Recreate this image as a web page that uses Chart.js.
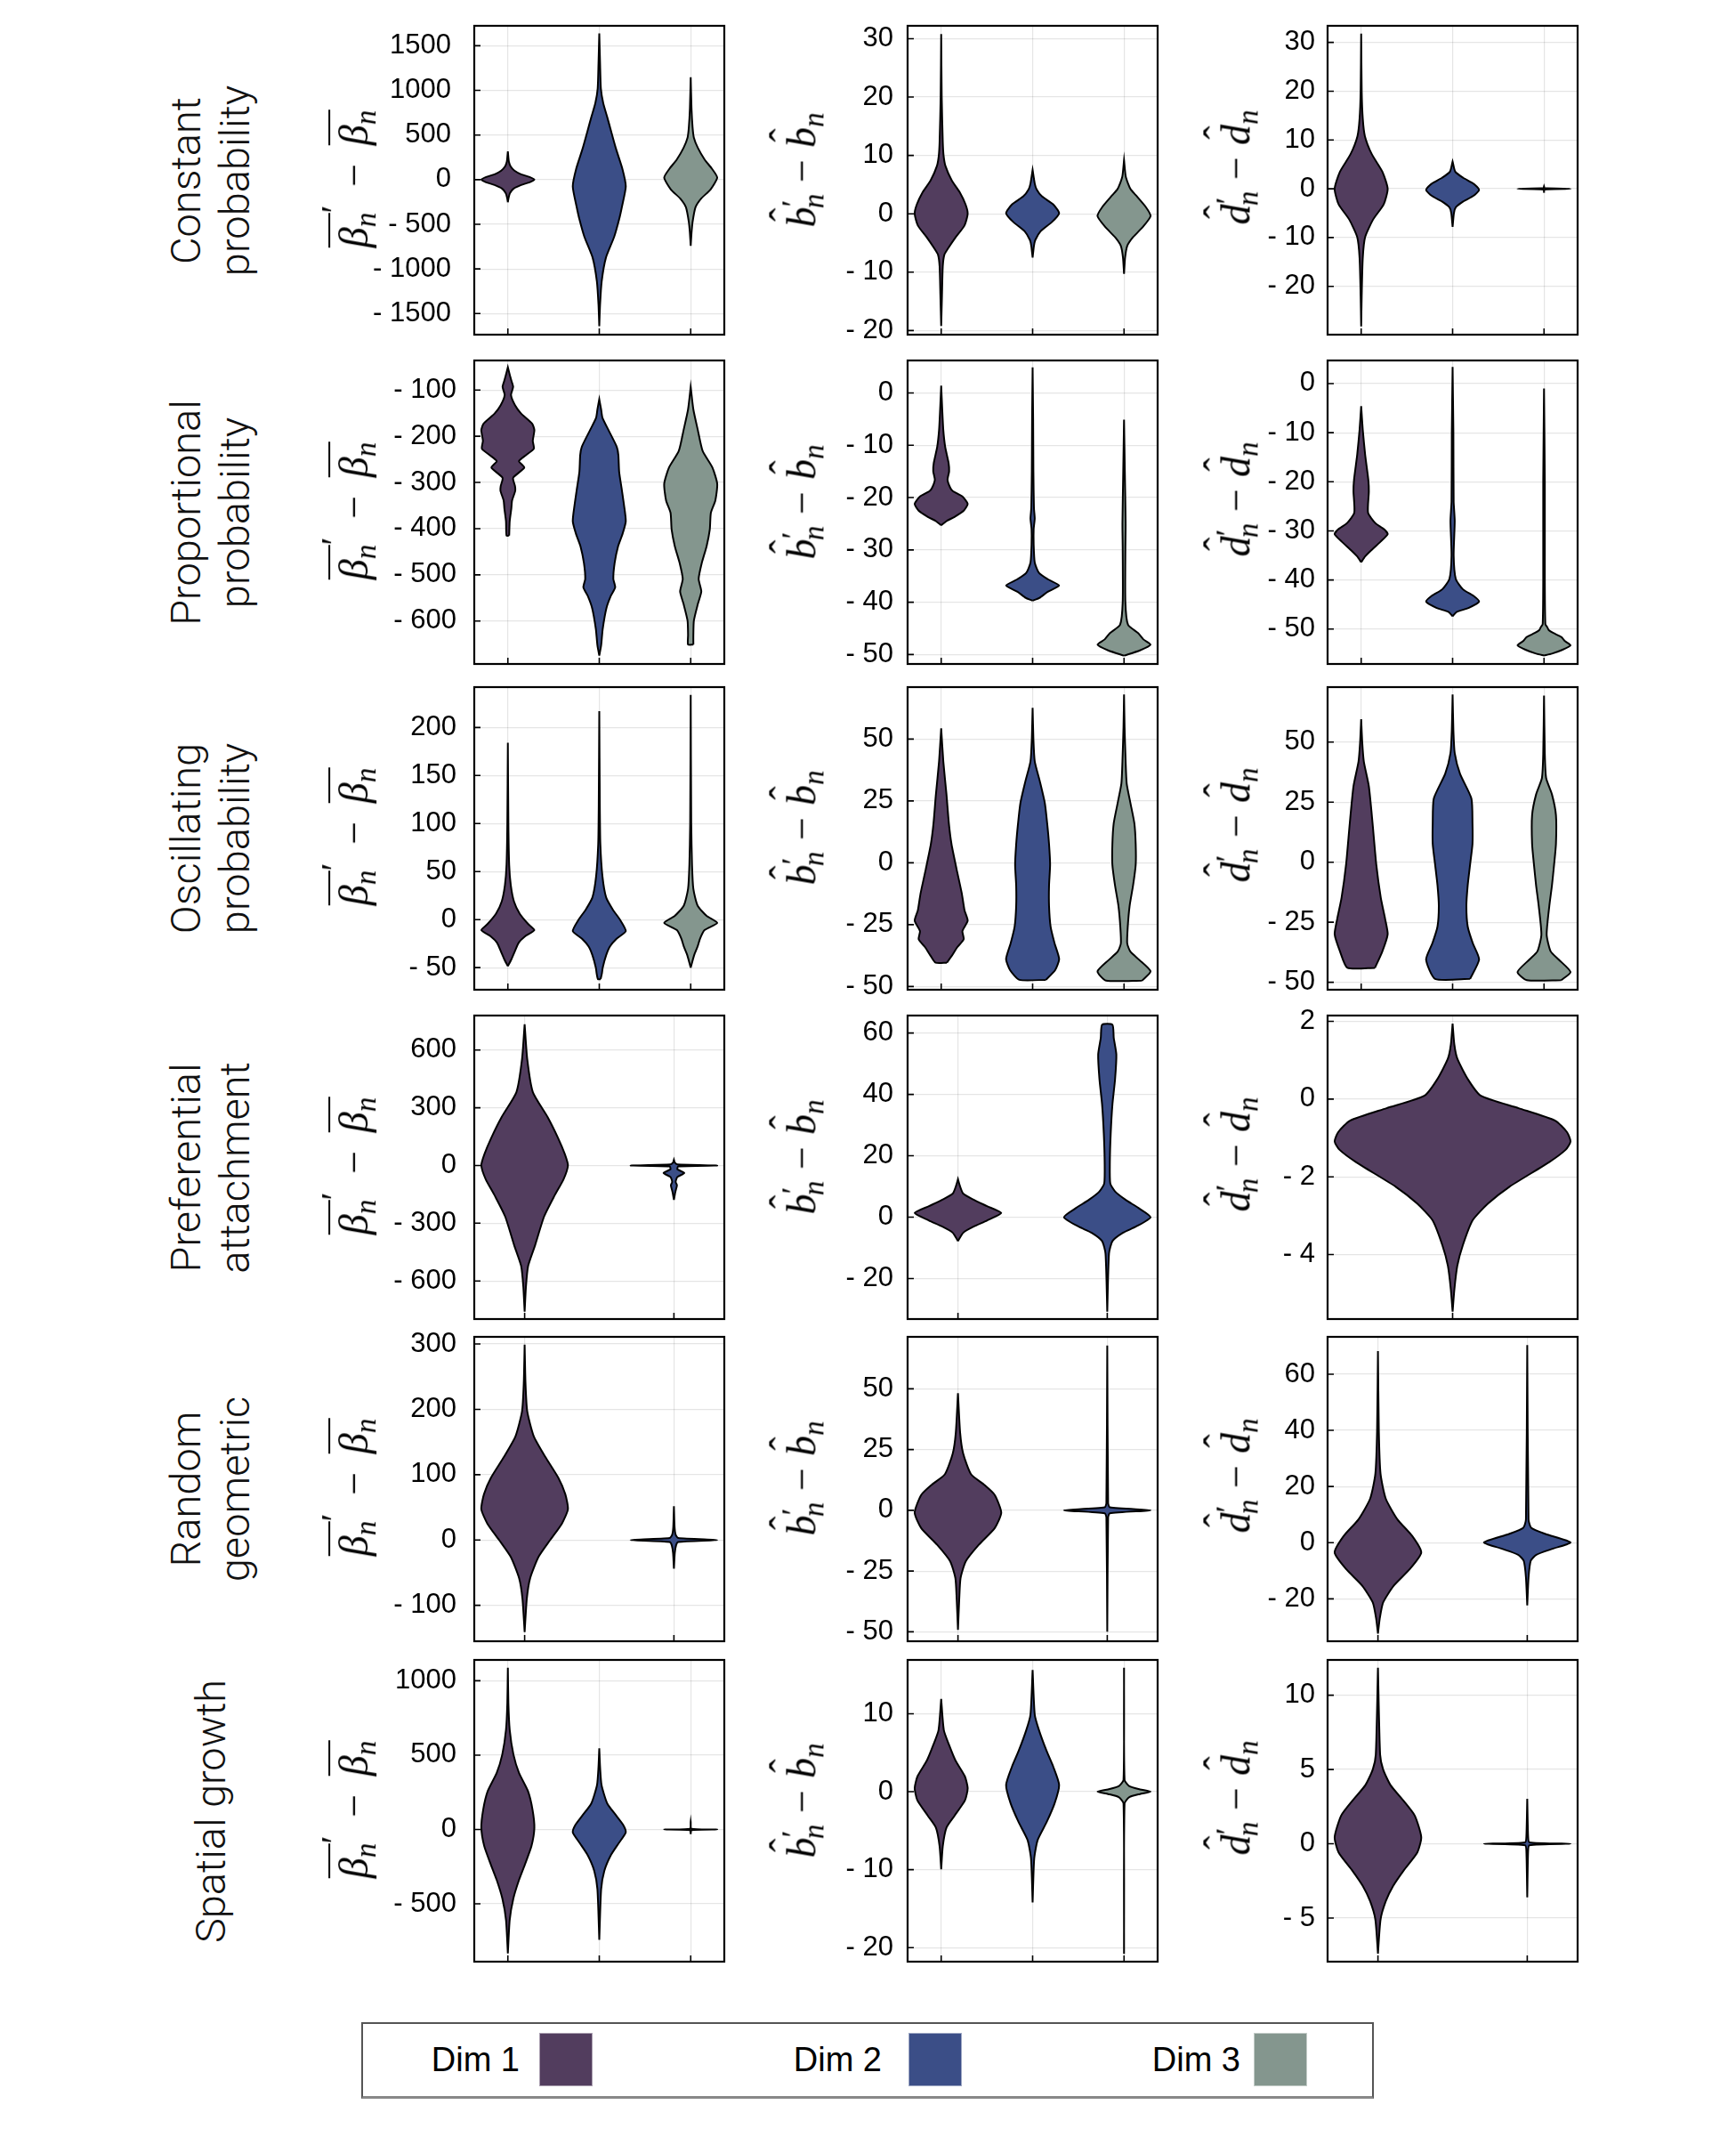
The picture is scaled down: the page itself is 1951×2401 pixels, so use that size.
<!DOCTYPE html>
<html><head><meta charset="utf-8">
<script src="https://cdn.jsdelivr.net/npm/chart.js@4.4.1/dist/chart.umd.min.js"></script>
<style>
html,body{margin:0;padding:0;background:#fff;}
body{width:1951px;height:2401px;position:relative;overflow:hidden;}
canvas{position:absolute;}
.rowlab{position:absolute;font-family:Roboto,'Liberation Sans',sans-serif;font-weight:300;font-size:47px;line-height:55px;text-align:center;white-space:nowrap;color:#111;transform:translate(-50%,-50%) rotate(-90deg);}
.ytitle{position:absolute;font-family:'Liberation Serif','DejaVu Serif',serif;font-style:italic;font-size:46px;line-height:60px;white-space:nowrap;color:#000;transform:translate(-50%,-50%) rotate(-90deg);}
.ob{display:inline-block;border-top:2px solid #000;line-height:1;padding-top:4px;}
.s{font-size:0.72em;vertical-align:-0.28em;}
.mn{font-style:normal;margin:0 0.28em;}
.mn1{font-style:normal;margin:0 0.45em;}
.pr{font-style:normal;vertical-align:0.55em;font-size:0.9em;margin-left:-0.02em;}
.pr2{font-style:normal;vertical-align:0.35em;font-size:0.8em;}
.sb{font-size:0.72em;vertical-align:-0.28em;margin-left:-0.3em;}
.hat{position:relative;display:inline-block;}
.hat::after{content:'\02C6';position:absolute;left:0.14em;top:-0.40em;font-style:normal;font-size:1em;}
#legend{position:absolute;left:406px;top:2272px;width:1138px;height:86px;box-sizing:border-box;border:2px solid #555;border-bottom:3px solid #888;background:#fff;}
.legtxt{position:absolute;font-family:'Liberation Sans',Arial,sans-serif;font-size:38px;color:#000;white-space:nowrap;transform:translate(-100%,-50%);}
.legsw{position:absolute;box-sizing:border-box;border:1px solid rgba(255,255,255,0.5);}
</style>
</head><body>
<script>
// ---------------- data ----------------
const categories = ['Dim 1', 'Dim 2', 'Dim 3'];
const colors = ['#523d5e', '#3b4e87', '#84968e'];
const rowLabels = [
  ['Constant', 'probability'],
  ['Proportional', 'probability'],
  ['Oscillating', 'probability'],
  ['Preferential', 'attachment'],
  ['Random', 'geometric'],
  ['Spatial growth']
];

// violin profiles: [y value, relative half-width (1 = widest)]
// Row 1: constant probability
const cp_beta_ticks = [-1500, -1000, -500, 0, 500, 1000, 1500];
const cp_beta_range = [-1736, 1723];
const cp_beta_dim1 = [[-253,0],[-200,0.03],[-150,0.08],[-100,0.22],[-60,0.5],[-30,0.82],[0,1],[30,0.82],[60,0.5],[100,0.25],[150,0.1],[200,0.04],[250,0.02],[316,0]];
const cp_beta_dim2 = [[-1641,0],[-1400,0.03],[-1141,0.09],[-875,0.25],[-642,0.56],[-443,0.75],[-310,0.85],[-77,1],[123,0.87],[356,0.62],[690,0.31],[855,0.15],[1022,0.06],[1300,0.03],[1638,0]];
const cp_beta_dim3 = [[-742,0],[-600,0.03],[-476,0.07],[-310,0.18],[-210,0.4],[-110,0.75],[23,1],[123,0.8],[223,0.53],[356,0.27],[470,0.12],[589,0.07],[800,0.03],[1148,0]];
const cp_b_ticks = [-20, -10, 0, 10, 20, 30];
const cp_b_range = [-20.7, 32.2];
const cp_b_dim1 = [[-19.2,0],[-14,0.03],[-9,0.06],[-7,0.12],[-6,0.25],[-4,0.55],[-2,0.88],[0,1],[1.6,0.92],[3.7,0.7],[5.7,0.4],[8.2,0.16],[10,0.09],[12.3,0.06],[20,0.02],[30.8,0]];
const cp_b_dim2 = [[-7.5,0],[-5.5,0.05],[-4.5,0.1],[-3,0.3],[-1.4,0.73],[0.1,1],[1.6,0.78],[3,0.35],[4.2,0.15],[5.2,0.08],[7.5,0]];
const cp_b_dim3 = [[-10.3,0],[-7.5,0.04],[-5.5,0.12],[-4,0.34],[-2.4,0.68],[-0.4,1],[1.1,0.83],[3.2,0.44],[4.2,0.25],[5.2,0.15],[6.5,0.06],[9.2,0]];
const cp_d_ticks = [-20, -10, 0, 10, 20, 30];
const cp_d_range = [-29.9, 33.4];
const cp_d_dim1 = [[-28.2,0],[-22,0.02],[-14.2,0.06],[-9.9,0.15],[-6.3,0.45],[-3.2,0.85],[0,1],[3.5,0.8],[7.1,0.4],[10.8,0.14],[14.4,0.06],[20,0.02],[31.8,0]];
const cp_d_dim2 = [[-7.8,0],[-5,0.05],[-3.8,0.12],[-2.6,0.4],[-1.4,0.8],[-0.2,1],[1,0.8],[2.25,0.4],[3.5,0.1],[5.6,0]];
const cp_d_dim3 = [[-0.8,0],[-0.15,0.02],[0,1],[0.15,0.02],[0.5,0]];

// Row 2: proportional probability
const pp_beta_ticks = [-600, -500, -400, -300, -200, -100];
const pp_beta_range = [-693, -36];
const pp_beta_dim1 = [[-415,0.05],[-384,0.07],[-357,0.13],[-339,0.16],[-318,0.28],[-308,0.27],[-290,0.2],[-268,0.62],[-254,0.42],[-241,0.68],[-227,0.98],[-210,0.94],[-187,1],[-173,0.92],[-151,0.5],[-133,0.27],[-111,0.12],[-93,0.2],[-79,0.13],[-62,0.05],[-50.7,0]];
const pp_beta_dim2 = [[-675,0],[-653,0.07],[-617,0.13],[-572,0.27],[-545,0.44],[-527,0.6],[-509,0.53],[-474,0.58],[-438,0.71],[-411,0.88],[-384,1],[-348,0.93],[-312,0.84],[-277,0.75],[-241,0.72],[-223,0.66],[-187,0.35],[-160,0.12],[-142,0.07],[-120,0]];
const pp_beta_dim3 = [[-651,0.1],[-630,0.1],[-599,0.12],[-563,0.27],[-536,0.4],[-509,0.3],[-474,0.42],[-438,0.6],[-402,0.72],[-366,0.76],[-339,0.93],[-303,1],[-268,0.82],[-232,0.45],[-187,0.27],[-142,0.1],[-93,0]];
const pp_b_ticks = [-50, -40, -30, -20, -10, 0];
const pp_b_range = [-51.8, 6.2];
const pp_b_dim1 = [[-25.3,0],[-24.5,0.2],[-23.7,0.5],[-22.5,0.85],[-21.2,1],[-19.8,0.8],[-18.8,0.45],[-18.2,0.35],[-16.6,0.24],[-15,0.3],[-13.4,0.28],[-10.3,0.15],[-7.1,0.08],[-3.2,0.04],[1.4,0]];
const pp_b_dim2 = [[-39.7,0],[-39.2,0.25],[-38,0.57],[-36.8,1],[-35.6,0.57],[-34.4,0.24],[-32.4,0.08],[-29,0.04],[-26,0.04],[-24,0.08],[-22,0.05],[-15,0.03],[-5,0.02],[4.9,0]];
const pp_b_dim3 = [[-50.2,0],[-49.2,0.6],[-48.1,1],[-47.1,0.73],[-45.9,0.53],[-44.3,0.15],[-40,0.05],[-30,0.05],[-25,0.06],[-15,0.03],[-5.1,0]];
const pp_d_ticks = [-50, -40, -30, -20, -10, 0];
const pp_d_range = [-57.1, 4.7];
const pp_d_dim1 = [[-36.4,0],[-35.2,0.15],[-33.9,0.39],[-32.2,0.73],[-30.7,1],[-29.7,0.87],[-28.4,0.53],[-26.3,0.26],[-22,0.29],[-19.6,0.27],[-14.5,0.15],[-9.4,0.06],[-4.6,0]];
const pp_d_dim2 = [[-47.4,0],[-46.5,0.15],[-45.7,0.6],[-44.4,1],[-43.2,0.78],[-41.9,0.39],[-39.8,0.12],[-35,0.04],[-28,0.08],[-24,0.04],[-10,0.03],[3.4,0]];
const pp_d_dim3 = [[-55.4,0],[-55,0.3],[-54.2,0.7],[-53.3,1],[-52.5,0.8],[-51.6,0.65],[-50.8,0.35],[-50.2,0.18],[-49.6,0.12],[-49,0.05],[-40,0.03],[-20,0.03],[-1,0]];

// Row 3: oscillating probability
const op_beta_ticks = [-50, 0, 50, 100, 150, 200];
const op_beta_range = [-73, 242];
const op_beta_dim1 = [[-48.5,0],[-41,0.14],[-32.6,0.27],[-24,0.41],[-17.6,0.64],[-11,1],[-4.7,0.77],[6,0.45],[19,0.23],[36,0.11],[57,0.05],[100,0.02],[184,0]];
const op_beta_dim2 = [[-62,0.05],[-56,0.1],[-50,0.13],[-37,0.26],[-28,0.4],[-20,0.65],[-12,1],[0,0.78],[10,0.52],[23,0.26],[45,0.12],[79,0.04],[120,0.02],[217,0]];
const op_beta_dim3 = [[-50,0],[-37,0.13],[-28,0.26],[-20,0.35],[-11,0.52],[-3.4,1],[3.9,0.6],[14.6,0.26],[32,0.1],[57,0.05],[100,0.02],[234,0]];
const op_b_ticks = [-50, -25, 0, 25, 50];
const op_b_range = [-51.3, 71];
const op_b_dim1 = [[-40.4,0.21],[-37.6,0.4],[-34.2,0.6],[-30.9,0.85],[-27.6,0.8],[-23.4,1],[-19.2,0.88],[-12.5,0.78],[-2.5,0.58],[7.5,0.39],[15.9,0.29],[27.6,0.2],[41,0.08],[54.3,0]];
const op_b_dim2 = [[-47.3,0.5],[-43.4,0.85],[-38.9,1],[-32.6,0.83],[-25.9,0.68],[-17.5,0.62],[-9.2,0.62],[-0.8,0.66],[7.5,0.62],[15.9,0.55],[24.2,0.46],[32.6,0.28],[41,0.08],[50,0.03],[62.6,0]];
const op_b_dim3 = [[-47.6,0.68],[-43.9,1],[-39.3,0.58],[-35.9,0.24],[-32.6,0.12],[-25.9,0.14],[-17.5,0.21],[-9.2,0.34],[-0.8,0.44],[7.5,0.44],[15.9,0.39],[24.2,0.24],[32,0.1],[41,0.06],[55,0.02],[68,0]];
const op_d_ticks = [-50, -25, 0, 25, 50];
const op_d_range = [-53.1, 72.9];
const op_d_dim1 = [[-44,0.52],[-37.1,0.8],[-30,1],[-23.4,0.9],[-14.8,0.74],[-1,0.57],[16.2,0.43],[31.6,0.29],[41.9,0.1],[50,0.04],[59.5,0]];
const op_d_dim2 = [[-48.6,0.66],[-40.5,1],[-33.7,0.76],[-26.8,0.57],[-18.2,0.52],[-9.6,0.57],[-1,0.66],[7.6,0.75],[16.2,0.75],[26.5,0.71],[36.8,0.28],[45.4,0.08],[55,0.03],[69.8,0]];
const op_d_dim3 = [[-49.1,0.65],[-45.7,1],[-40.5,0.55],[-37.1,0.25],[-30.2,0.1],[-18.2,0.2],[-9.6,0.3],[-1,0.38],[7.6,0.45],[19.6,0.45],[28.2,0.3],[35,0.08],[45,0.03],[69.4,0]];

// Row 4: preferential attachment
const pa_beta_ticks = [-600, -300, 0, 300, 600];
const pa_beta_range = [-798, 779];
const pa_beta_dim1 = [[-760,0],[-631,0.03],[-523,0.08],[-416,0.24],[-265,0.45],[-157,0.69],[-71,0.9],[0,1],[58,0.93],[144,0.77],[252,0.53],[381,0.19],[553,0.06],[734,0]];
const pa_beta_dim2 = [[-179,0],[-140,0.03],[-103,0.07],[-85,0.04],[-60,0.08],[-39,0.24],[-20,0.08],[-5,0.1],[0,1],[5,0.08],[15,0.02],[30,0]];
const pa_b_ticks = [-20, 0, 20, 40, 60];
const pa_b_range = [-33.2, 65.7];
const pa_b_dim1 = [[-7.8,0],[-5.1,0.12],[-3.1,0.36],[-1.1,0.67],[1.35,1],[3.6,0.67],[5.7,0.36],[7.7,0.12],[10.4,0.04],[12.4,0]];
const pa_b_dim2 = [[-30.8,0],[-11.9,0.04],[-7.8,0.12],[-5.1,0.36],[-3.1,0.66],[0,1],[3,0.72],[5.7,0.42],[8.4,0.18],[11,0.07],[17.8,0.06],[27.3,0.08],[36.8,0.12],[44.9,0.18],[53,0.21],[58.4,0.15],[62.7,0.12]];
const pa_d_ticks = [-4, -2, 0, 2];
const pa_d_range = [-5.66, 2.15];
const pa_d_dim1 = [[-5.47,0],[-4.9,0.015],[-4.29,0.04],[-3.76,0.087],[-3.12,0.17],[-2.69,0.3],[-2.26,0.48],[-1.62,0.82],[-1.3,0.96],[-1.09,1],[-0.85,0.97],[-0.555,0.87],[-0.235,0.56],[0.085,0.24],[0.51,0.13],[1.04,0.04],[1.4,0.015],[1.94,0]];

// Row 5: random geometric
const rg_beta_ticks = [-100, 0, 100, 200, 300];
const rg_beta_range = [-155, 311];
const rg_beta_dim1 = [[-141,0],[-90,0.05],[-58,0.13],[-26,0.32],[0,0.59],[25,0.86],[47,1],[70,0.94],[95,0.78],[127,0.48],[159,0.21],[197,0.06],[240,0.02],[299,0]];
const rg_beta_dim2 = [[-44,0],[-20,0.02],[-8,0.05],[-3,0.1],[0,1],[3,0.1],[8,0.04],[20,0.015],[51.6,0]];
const rg_b_ticks = [-50, -25, 0, 25, 50];
const rg_b_range = [-53.9, 71.4];
const rg_b_dim1 = [[-49.2,0],[-36.4,0.03],[-27.9,0.06],[-21,0.18],[-14.2,0.48],[-7.3,0.85],[-1,1],[6.3,0.85],[10.6,0.6],[14.9,0.3],[23.4,0.12],[32,0.05],[48.2,0]];
const rg_b_dim2 = [[-50,0],[-3,0.02],[-1.2,0.06],[0,1],[1.2,0.06],[3,0.02],[67.8,0]];
const rg_d_ticks = [-20, 0, 20, 40, 60];
const rg_d_range = [-35.1, 73.3];
const rg_d_dim1 = [[-32.4,0],[-27.2,0.04],[-21.3,0.12],[-15.4,0.36],[-9.5,0.73],[-3.5,1],[2.4,0.79],[8.3,0.45],[15.7,0.18],[24.5,0.06],[40,0.02],[68.2,0]];
const rg_d_dim2 = [[-22.3,0],[-12.4,0.03],[-6.5,0.08],[-4.3,0.21],[-2.1,0.6],[0.1,1],[3.1,0.42],[5.3,0.09],[8.3,0.03],[70.4,0]];

// Row 6: spatial growth
const sg_beta_ticks = [-500, 0, 500, 1000];
const sg_beta_range = [-889, 1140];
const sg_beta_dim1 = [[-834,0],[-608,0.07],[-463,0.21],[-340,0.42],[-237,0.64],[-113,0.89],[10,1],[134,0.93],[258,0.76],[381,0.42],[505,0.21],[670,0.07],[850,0.02],[1088,0]];
const sg_beta_dim2 = [[-742,0],[-402,0.07],[-278,0.19],[-175,0.43],[-93,0.73],[-20,1],[31,0.9],[93,0.64],[175,0.3],[299,0.085],[420,0.03],[546,0]];
const sg_beta_dim3 = [[-31,0],[-5,0.03],[0,1],[5,0.03],[51,0]];
const sg_b_ticks = [-20, -10, 0, 10];
const sg_b_range = [-21.8, 16.9];
const sg_b_dim1 = [[-9.95,0],[-7,0.06],[-4.6,0.2],[-3.1,0.5],[-1.1,0.9],[0.47,1],[2,0.89],[4,0.54],[5.98,0.3],[7.9,0.1],[11.9,0]];
const sg_b_dim2 = [[-14.2,0],[-8.6,0.06],[-6.2,0.19],[-3.9,0.53],[-1.5,0.83],[0.87,1],[3.2,0.78],[5.2,0.53],[7.9,0.24],[9.9,0.08],[15.6,0]];
const sg_b_dim3 = [[-20.8,0],[-1.5,0.02],[-0.7,0.2],[-0.3,0.6],[0,1],[0.3,0.6],[0.7,0.2],[1.5,0.02],[15.9,0]];
const sg_d_ticks = [-5, 0, 5, 10];
const sg_d_range = [-7.93, 12.37];
const sg_d_dim1 = [[-7.38,0],[-5.1,0.06],[-3.87,0.18],[-2.84,0.35],[-1.81,0.59],[-0.58,0.91],[0.45,1],[1.9,0.85],[2.9,0.59],[3.95,0.29],[5,0.12],[6,0.05],[11.85,0]];
const sg_d_dim2 = [[-3.6,0],[-0.5,0.02],[-0.1,0.05],[0,1],[0.1,0.05],[0.5,0.02],[3.03,0]];

// panel table (built from the arrays above)
const panels = [
  [cp_beta_ticks, cp_beta_range, [[0,cp_beta_dim1],[1,cp_beta_dim2],[2,cp_beta_dim3]]],
  [cp_b_ticks, cp_b_range, [[0,cp_b_dim1],[1,cp_b_dim2],[2,cp_b_dim3]]],
  [cp_d_ticks, cp_d_range, [[0,cp_d_dim1],[1,cp_d_dim2],[2,cp_d_dim3]]],
  [pp_beta_ticks, pp_beta_range, [[0,pp_beta_dim1],[1,pp_beta_dim2],[2,pp_beta_dim3]]],
  [pp_b_ticks, pp_b_range, [[0,pp_b_dim1],[1,pp_b_dim2],[2,pp_b_dim3]]],
  [pp_d_ticks, pp_d_range, [[0,pp_d_dim1],[1,pp_d_dim2],[2,pp_d_dim3]]],
  [op_beta_ticks, op_beta_range, [[0,op_beta_dim1],[1,op_beta_dim2],[2,op_beta_dim3]]],
  [op_b_ticks, op_b_range, [[0,op_b_dim1],[1,op_b_dim2],[2,op_b_dim3]]],
  [op_d_ticks, op_d_range, [[0,op_d_dim1],[1,op_d_dim2],[2,op_d_dim3]]],
  [pa_beta_ticks, pa_beta_range, [[0,pa_beta_dim1],[1,pa_beta_dim2]]],
  [pa_b_ticks, pa_b_range, [[0,pa_b_dim1],[1,pa_b_dim2]]],
  [pa_d_ticks, pa_d_range, [[0,pa_d_dim1]]],
  [rg_beta_ticks, rg_beta_range, [[0,rg_beta_dim1],[1,rg_beta_dim2]]],
  [rg_b_ticks, rg_b_range, [[0,rg_b_dim1],[1,rg_b_dim2]]],
  [rg_d_ticks, rg_d_range, [[0,rg_d_dim1],[1,rg_d_dim2]]],
  [sg_beta_ticks, sg_beta_range, [[0,sg_beta_dim1],[1,sg_beta_dim2],[2,sg_beta_dim3]]],
  [sg_b_ticks, sg_b_range, [[0,sg_b_dim1],[1,sg_b_dim2],[2,sg_b_dim3]]],
  [sg_d_ticks, sg_d_range, [[0,sg_d_dim1],[1,sg_d_dim2]]]
];

// ---------------- layout ----------------
const colBox = [[533, 814], [1020, 1301], [1492, 1773]];
const rowBox = [[29, 376], [405, 746], [772, 1112], [1141, 1482], [1502, 1844], [1865, 2204]];
const tickGap = [20, 16, 14];
const titleX = [387, 903, 1391];
const titleDY = [-2, -12, -15];
const LEFTW = 170, PADT = 60, PADB = 60, PADR = 4;
const HALF = 0.29;
const GRID = 'rgba(0,0,0,0.10)';

const titlesHTML = [
  '<span class="ob">β<span class="s">n</span></span><span class="pr">′</span><span class="mn1">−</span><span class="ob">β<span class="s">n</span></span>',
  '<span class="hat">b</span><span class="pr2">′</span><span class="sb">n</span><span class="mn">−</span><span class="hat">b</span><span class="s">n</span>',
  '<span class="hat">d</span><span class="pr2">′</span><span class="sb">n</span><span class="mn">−</span><span class="hat">d</span><span class="s">n</span>'
];

const framePlugin = {
  id: 'frame',
  afterDraw(chart) {
    const {ctx, chartArea: a, scales} = chart;
    ctx.save();
    ctx.strokeStyle = '#000';
    ctx.lineWidth = 1.6;
    ctx.beginPath();
    scales.y.ticks.forEach(t => { const p = scales.y.getPixelForValue(t.value); ctx.moveTo(a.left, p); ctx.lineTo(a.left + 7, p); });
    scales.x.ticks.forEach(t => { const p = scales.x.getPixelForValue(t.value); ctx.moveTo(p, a.bottom); ctx.lineTo(p, a.bottom - 7); });
    ctx.stroke();
    ctx.lineWidth = 2.2;
    ctx.strokeRect(a.left, a.top, a.right - a.left, a.bottom - a.top);
    ctx.restore();
  }
};

function violinPoints(c, prof) {
  const right = prof.map(([y, w]) => ({x: c + w * HALF, y: y}));
  const left = prof.slice().reverse().map(([y, w]) => ({x: c - w * HALF, y: y}));
  const pts = right.concat(left);
  pts.push({x: pts[0].x, y: pts[0].y});
  return pts;
}

panels.forEach((p, idx) => {
  const row = Math.floor(idx / 3), col = idx % 3;
  const [ticks, range, violins] = p;
  const [bl, br] = colBox[col];
  const [bt, bb] = rowBox[row];
  const cv = document.createElement('canvas');
  const W = LEFTW + (br - bl) + PADR, Hh = PADT + (bb - bt) + PADB;
  cv.width = W; cv.height = Hh;
  cv.style.left = (bl - LEFTW) + 'px';
  cv.style.top = (bt - PADT) + 'px';
  cv.style.width = W + 'px'; cv.style.height = Hh + 'px';
  document.body.appendChild(cv);
  const n = violins.length;
  const lo = 1 - HALF, hi = n + HALF, pad = 0.03 * (hi - lo);
  const cats = violins.map((v, i) => i + 1);
  new Chart(cv.getContext('2d'), {
    type: 'scatter',
    data: {
      datasets: violins.map((v, i) => ({
        label: categories[v[0]],
        data: violinPoints(i + 1, v[1]),
        showLine: true,
        fill: 'shape',
        backgroundColor: colors[v[0]],
        borderColor: '#000',
        borderWidth: 2,
        pointRadius: 0,
        pointHoverRadius: 0,
        tension: 0.2
      }))
    },
    options: {
      responsive: false,
      animation: false,
      devicePixelRatio: 1,
      events: [],
      layout: {padding: {left: 0, right: PADR, top: PADT, bottom: PADB}},
      plugins: {legend: {display: false}, tooltip: {enabled: false}},
      scales: {
        x: {
          type: 'linear', min: lo - pad, max: hi + pad,
          ticks: {display: false},
          grid: {color: GRID, drawTicks: false, lineWidth: 1.2},
          border: {display: false},
          afterBuildTicks: s => { s.ticks = cats.map(v => ({value: v})); },
          afterFit: s => { s.height = 0; }
        },
        y: {
          type: 'linear', min: range[0], max: range[1],
          afterBuildTicks: s => { s.ticks = ticks.map(v => ({value: v})); },
          afterFit: s => { s.width = LEFTW; },
          ticks: {
            autoSkip: false,
            padding: (row === 0 && col === 0) ? 26 : tickGap[col],
            color: '#000',
            font: {family: "'Liberation Sans', Arial, sans-serif", size: 31},
            callback: v => v < 0 ? '- ' + Math.abs(v) : String(v)
          },
          grid: {color: GRID, drawTicks: false, lineWidth: 1.2},
          border: {display: false}
        }
      }
    },
    plugins: [framePlugin]
  });
  // y-axis title
  const t = document.createElement('div');
  t.className = 'ytitle';
  t.innerHTML = titlesHTML[col];
  t.style.left = titleX[col] + 'px';
  t.style.top = ((bt + bb) / 2 + titleDY[col]) + 'px';
  document.body.appendChild(t);
});

// row labels
rowLabels.forEach((lines, r) => {
  const d = document.createElement('div');
  d.className = 'rowlab';
  d.innerHTML = lines.join('<br>');
  d.style.left = '236px';
  d.style.top = ((rowBox[r][0] + rowBox[r][1]) / 2) + 'px';
  document.body.appendChild(d);
});

// legend
const lg = document.createElement('div');
lg.id = 'legend';
document.body.appendChild(lg);
const legTextRight = [584, 991, 1394];
const legSwatchLeft = [606, 1021, 1409];
categories.forEach((c, i) => {
  const tx = document.createElement('div');
  tx.className = 'legtxt';
  tx.textContent = c;
  tx.style.left = legTextRight[i] + 'px';
  tx.style.top = '2314px';
  document.body.appendChild(tx);
  const sw = document.createElement('div');
  sw.className = 'legsw';
  sw.style.left = legSwatchLeft[i] + 'px';
  sw.style.top = '2284px';
  sw.style.width = '60px';
  sw.style.height = '60px';
  sw.style.background = colors[i];
  document.body.appendChild(sw);
});
</script>
</body></html>
